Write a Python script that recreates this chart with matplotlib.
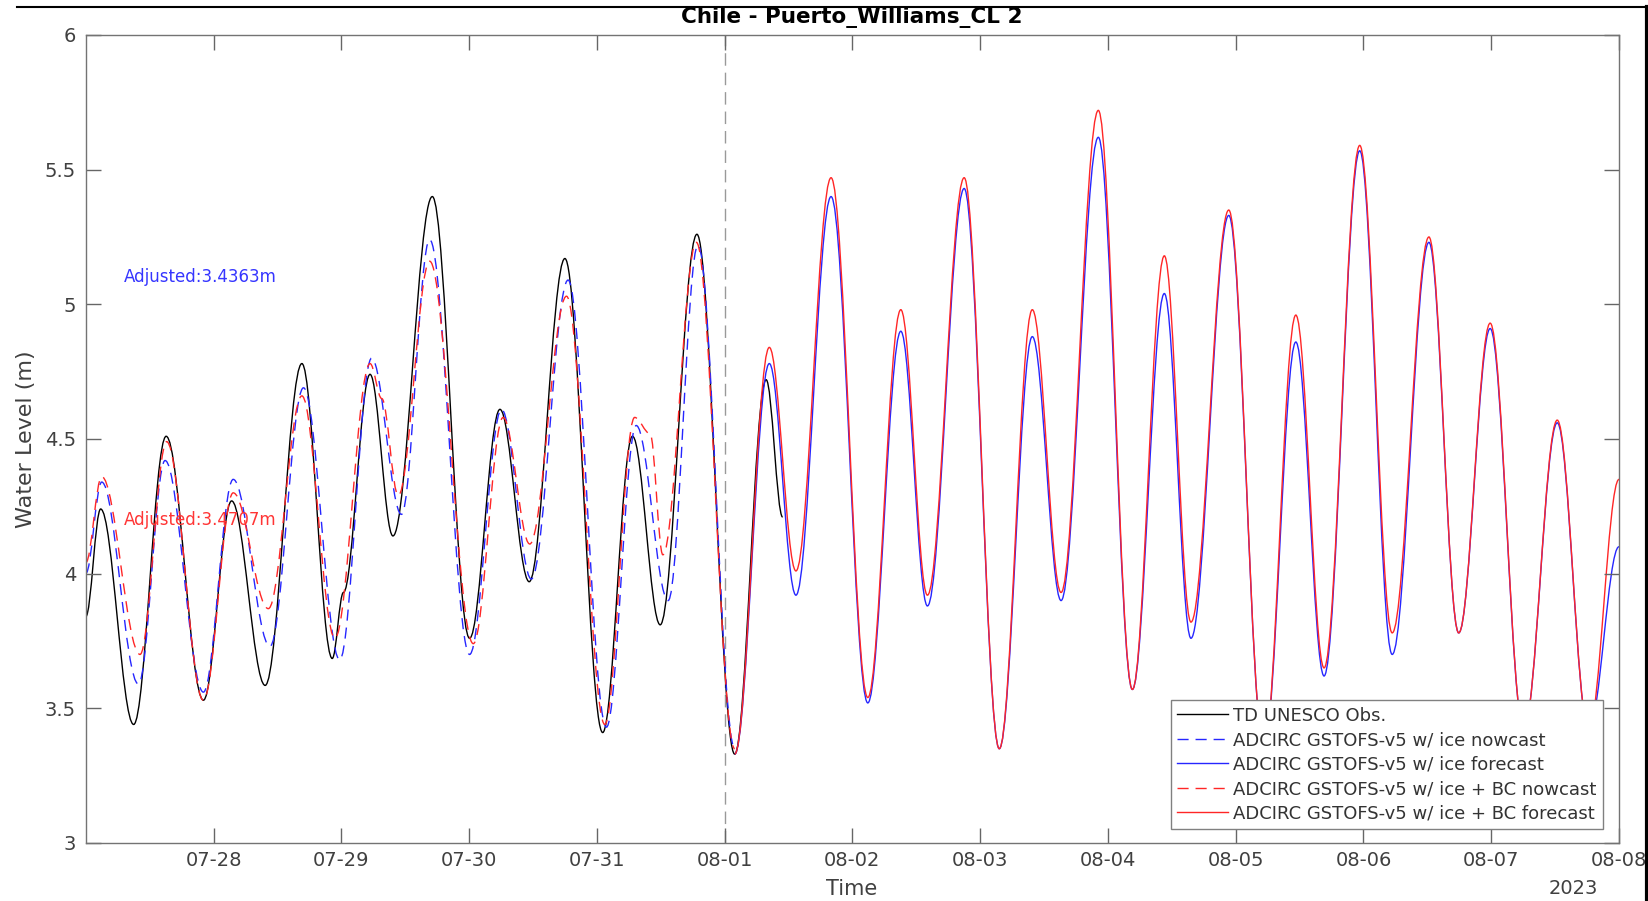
import matplotlib
matplotlib.use('Agg')
import matplotlib.pyplot as plt
import matplotlib.dates as mdates
import pandas as pd
from matplotlib.lines import Line2D
from matplotlib.path import Path
from matplotlib.patches import PathPatch

# hours after 2023-07-27 00:00 (highs, lows and a few shoulders)
obs_hours = [0.0, 2.8, 9.0, 15.1, 22.1, 27.4, 33.7, 40.6, 46.3, 48.4, 53.4, 57.7,
             65.1, 72.1, 77.8, 83.3, 90.0, 97.1, 102.7, 107.9, 114.8, 121.9, 127.8, 130.9]
obs_level = [3.84, 4.24, 3.44, 4.51, 3.53, 4.27, 3.585, 4.78, 3.685, 3.93, 4.74, 4.14,
             5.40, 3.76, 4.61, 3.97, 5.17, 3.41, 4.51, 3.81, 5.26, 3.33, 4.72, 4.21]

ice_now_hours = [0.0, 3.0, 9.9, 14.9, 22.1, 27.7, 34.6, 40.9, 47.7, 53.7, 59.3,
                 64.6, 72.1, 78.1, 83.7, 90.6, 97.8, 103.4, 109.4, 115.0, 121.9]
ice_now_level = [4.00, 4.34, 3.59, 4.42, 3.56, 4.35, 3.73, 4.69, 3.68, 4.80, 4.22,
                 5.24, 3.70, 4.61, 3.98, 5.09, 3.43, 4.55, 3.90, 5.22, 3.35]

bc_now_hours = [0.0, 3.0, 10.2, 15.2, 22.1, 27.7, 34.3, 40.6, 46.8, 53.4, 55.6,
                58.7, 64.6, 72.8, 78.4, 83.4, 90.3, 97.5, 103.1, 106.0, 108.4, 114.7, 121.9]
bc_now_level = [4.04, 4.36, 3.70, 4.49, 3.53, 4.30, 3.87, 4.66, 3.76, 4.78, 4.65,
                4.29, 5.16, 3.74, 4.58, 4.11, 5.03, 3.44, 4.58, 4.52, 4.07, 5.23, 3.35]

fc_hours = [121.9, 128.4, 133.4, 140.0, 146.9, 153.1, 158.1, 165.0, 171.6,
            177.8, 183.2, 190.2, 196.6, 202.6, 207.6, 214.7, 221.3, 227.3, 232.6,
            239.3, 245.4, 252.3, 257.9, 263.8, 270.1, 276.4, 282.3, 288.0]
ice_fc_level = [3.33, 4.78, 3.92, 5.40, 3.52, 4.90, 3.88, 5.43, 3.35,
                4.88, 3.90, 5.62, 3.57, 5.04, 3.76, 5.33, 3.35, 4.86, 3.62,
                5.57, 3.70, 5.23, 3.78, 4.91, 3.42, 4.56, 3.42, 4.10]
bc_fc_level = [3.33, 4.84, 4.01, 5.47, 3.54, 4.98, 3.92, 5.47, 3.35,
               4.98, 3.93, 5.72, 3.57, 5.18, 3.82, 5.35, 3.35, 4.96, 3.65,
               5.59, 3.78, 5.25, 3.78, 4.93, 3.42, 4.57, 3.42, 4.35]

labels = ['TD UNESCO Obs.',
          'ADCIRC GSTOFS-v5 w/ ice nowcast',
          'ADCIRC GSTOFS-v5 w/ ice forecast',
          'ADCIRC GSTOFS-v5 w/ ice + BC nowcast',
          'ADCIRC GSTOFS-v5 w/ ice + BC forecast']

base = pd.Timestamp('2023-07-27')
BLUE = '#2626ff'
RED = '#ff2626'
DASH = (8, 5)


def to_time(hours):
   return base + pd.to_timedelta(hours, unit='h')


def tide_curve(ax, hours, level, color, dashed=False):
   """Smooth curve through the read points, flat at each high / low."""
   x = mdates.date2num(to_time(hours))
   verts = [(x[0], level[0])]
   codes = [Path.MOVETO]
   for i in range(1, len(x)):
      dx = x[i] - x[i - 1]
      verts += [(x[i - 1] + 0.36 * dx, level[i - 1]), (x[i] - 0.36 * dx, level[i]),
                (x[i], level[i])]
      codes += [Path.CURVE4] * 3
   ls = (0, DASH) if dashed else '-'
   ax.add_patch(PathPatch(Path(verts, codes), fill=False, edgecolor=color, lw=1.0,
                          linestyle=ls, transform=ax.transData))
   return Line2D([], [], color=color, lw=1.0, dashes=DASH if dashed else (None, None))


plt.rcParams['font.family'] = ['DejaVu Sans']
fig = plt.figure(figsize=(16.49, 9.01), dpi=100)
ax = fig.add_axes([0.0520, 0.0644, 0.9298, 0.8968])
ax.xaxis_date()

handles = [tide_curve(ax, obs_hours, obs_level, 'k'),
           tide_curve(ax, ice_now_hours, ice_now_level, BLUE, dashed=True),
           tide_curve(ax, fc_hours, ice_fc_level, BLUE),
           tide_curve(ax, bc_now_hours, bc_now_level, RED, dashed=True),
           tide_curve(ax, fc_hours, bc_fc_level, RED)]

ax.axvline(pd.Timestamp('2023-08-01'), color='0.6', lw=1.0, dashes=(9, 5), zorder=0)

ax.text(to_time(7.2), 5.10, 'Adjusted:3.4363m', color='#3535ff', fontsize=12, va='center')
ax.text(to_time(7.2), 4.20, 'Adjusted:3.4707m', color='#ff3535', fontsize=12, va='center')

ax.set_xlim(pd.Timestamp('2023-07-27'), pd.Timestamp('2023-08-08'))
ax.set_ylim(3, 6)
ax.set_yticks([3, 3.5, 4, 4.5, 5, 5.5, 6])
ax.set_yticklabels(['3', '3.5', '4', '4.5', '5', '5.5', '6'])
ax.xaxis.set_major_locator(mdates.DayLocator(range(1, 32)))
ax.xaxis.set_major_formatter(mdates.DateFormatter('%m-%d'))
ax.set_xticks(ax.get_xticks()[1:])

ax.tick_params(direction='in', length=11, width=1.0, color='0.4', labelcolor='0.25',
               labelsize=14, top=True, right=True)
ax.tick_params(axis='x', pad=5.5)
ax.tick_params(axis='y', pad=7)
for s in ax.spines.values():
   s.set_color('0.45')
   s.set_linewidth(1.0)

fig.text(26 / 1649, 1 - 439 / 901, 'Water Level (m)', fontsize=16, color='0.25',
         rotation=90, ha='center', va='center')
fig.text(0.5167, 1 - 889 / 901, 'Time', fontsize=15, color='0.25', ha='center', va='center')
fig.text(1573 / 1649, 1 - 889 / 901, '2023', fontsize=14, color='0.25', ha='center', va='center')
fig.text(0.5167, 1 - 17 / 901, 'Chile - Puerto_Williams_CL 2', fontsize=15.5,
         fontweight='bold', ha='center', va='center')

leg = ax.legend(handles, labels, loc='lower right', bbox_to_anchor=(0.9896, 0.0173),
                borderaxespad=0, fontsize=13, handlelength=2.8, fancybox=False,
                framealpha=1, edgecolor='0.5', labelspacing=0.36, borderpad=0.35,
                handletextpad=0.3)
for t in leg.get_texts():
   t.set_color('0.2')

# frame lines at the top and right border of the picture
fig.add_artist(Line2D([17 / 1649, 1], [1 - 7 / 901, 1 - 7 / 901], color='k', lw=1.5,
                      transform=fig.transFigure))
fig.add_artist(Line2D([1 - 2 / 1649, 1 - 2 / 1649], [0, 1 - 7 / 901], color='k', lw=3,
                      transform=fig.transFigure))

fig.savefig('out.png', dpi=100)
